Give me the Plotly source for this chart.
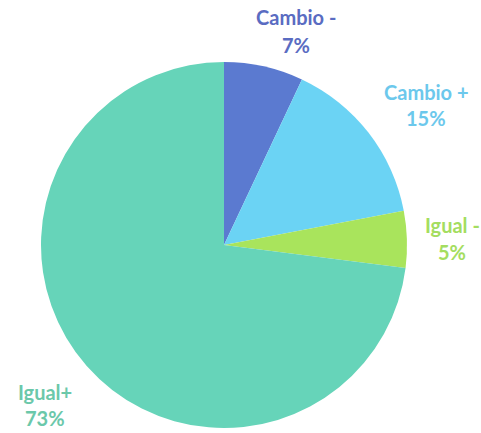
import plotly.graph_objects as go

# Distribution of responses
labels = ["Cambio -", "Cambio +", "Igual -", "Igual+"]
values = [7, 15, 5, 73]
slice_colors = ["#5b7ad0", "#6bd3f4", "#a9e45c", "#66d4b9"]
text_colors = ["#5a6cc2", "#6cc8ec", "#a4dd60", "#6bc8aa"]

# label centres in pixels: (x, y of name line, y of percent line)
label_x = [296, 426, 452, 45]
name_y = [17, 92, 225, 392]
pct_y = [45, 118, 252, 418]

W, H = 481, 433

fig = go.Figure(
    go.Pie(
        labels=labels,
        values=values,
        sort=False,
        direction="clockwise",
        rotation=0,
        marker=dict(colors=slice_colors, line=dict(width=0)),
        textinfo="none",
        hoverinfo="label+percent",
        showlegend=False,
        domain=dict(x=[41 / W, 407 / W], y=[(H - 428) / H, (H - 62) / H]),
    )
)

font_family = "Lato"
annotations = []
for lab, val, c, x, y1, y2 in zip(labels, values, text_colors, label_x, name_y, pct_y):
    for txt, y in ((lab, y1), (f"{val}%", y2)):
        annotations.append(
            dict(
                x=x / W,
                y=1 - y / H,
                xref="paper",
                yref="paper",
                text=txt,
                showarrow=False,
                font=dict(family=font_family, size=20, color=c, weight="bold"),
                xanchor="center",
                yanchor="middle",
            )
        )

fig.update_layout(
    width=W,
    height=H,
    margin=dict(l=0, r=0, t=0, b=0),
    paper_bgcolor="white",
    plot_bgcolor="white",
    annotations=annotations,
)

fig.write_html("out.html")
